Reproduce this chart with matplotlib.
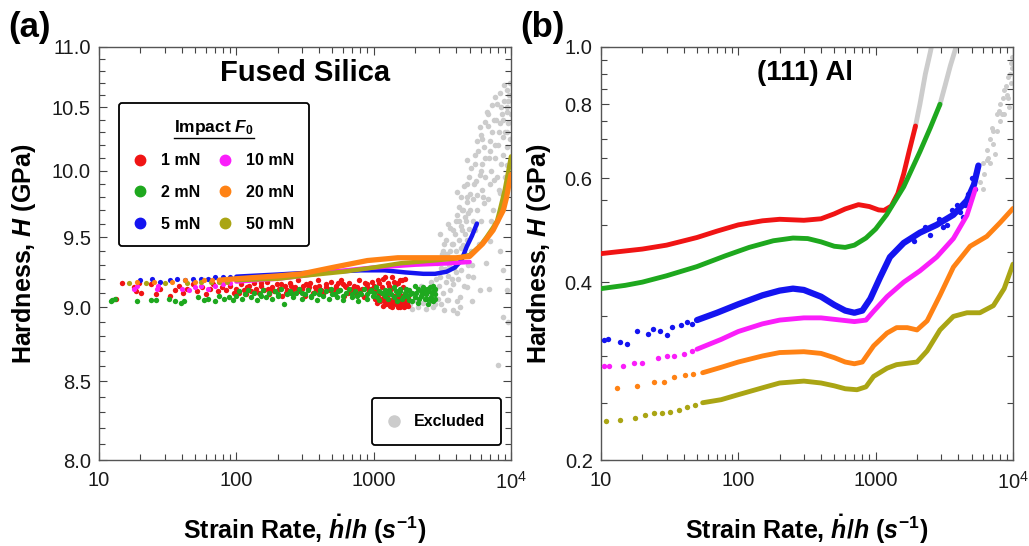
import numpy as np
import matplotlib
matplotlib.use('Agg')
import matplotlib.pyplot as plt
from matplotlib.lines import Line2D
from matplotlib.ticker import FixedLocator, NullFormatter, LogLocator

plt.rcParams['font.family'] = ['Liberation Sans', 'DejaVu Sans']
plt.rcParams['mathtext.fontset'] = 'custom'
plt.rcParams['mathtext.rm'] = 'Liberation Sans:bold'
plt.rcParams['mathtext.it'] = 'Liberation Sans:italic:bold'
plt.rcParams['mathtext.bf'] = 'Liberation Sans:bold'

# colours per impact force
colors = {'1 mN': '#f01414', '2 mN': '#1ea81e', '5 mN': '#1414f0',
          '10 mN': '#fa1efa', '20 mN': '#ff8214', '50 mN': '#aaa514'}
gray = '#cccccc'

# ---------------- panel (a): fused silica (strain rate, hardness GPa) ----------------
a_red = [(13.2, 9.06), (14.6, 9.17), (18, 9.14), (18.5, 9.11), (19.6, 9.17), (20.1, 9.10), (24, 9.16),
         (26, 9.09), (28, 9.13), (33, 9.08), (36, 9.12), (38, 9.15), (41, 9.10), (44, 9.13), (48, 9.16),
         (52, 9.11), (56, 9.14), (60, 9.09), (64, 9.13), (68, 9.16), (73, 9.11), (78, 9.14), (84, 9.12),
         (90, 9.15), (96, 9.10),
         (100, 9.13), (104, 9.10), (108, 9.16), (113, 9.12), (118, 9.09), (123, 9.15), (128, 9.11),
         (134, 9.17), (140, 9.13), (146, 9.10), (152, 9.15), (159, 9.12), (166, 9.18), (173, 9.09),
         (181, 9.14), (189, 9.11), (197, 9.16), (206, 9.13), (215, 9.08), (225, 9.15), (235, 9.12),
         (245, 9.17), (256, 9.10), (267, 9.14), (279, 9.19), (291, 9.11), (304, 9.15), (317, 9.08),
         (331, 9.13), (346, 9.17), (361, 9.10), (377, 9.14), (394, 9.19), (411, 9.12), (429, 9.09),
         (448, 9.16), (468, 9.13), (488, 9.18), (510, 9.10), (532, 9.15), (556, 9.12), (580, 9.19),
         (606, 9.08), (632, 9.14), (660, 9.17), (689, 9.11), (720, 9.15), (751, 9.09), (784, 9.19),
         (819, 9.13), (855, 9.07), (893, 9.16), (932, 9.11), (973, 9.18),
         (120, 9.14), (150, 9.17), (180, 9.12), (210, 9.16), (260, 9.13), (320, 9.16), (380, 9.12),
         (450, 9.14), (520, 9.13), (600, 9.16), (700, 9.13), (800, 9.12), (900, 9.14), (650, 9.10),
         (550, 9.17), (420, 9.11), (280, 9.12), (230, 9.10), (170, 9.13), (340, 9.14), (480, 9.12),
         (620, 9.15), (760, 9.14), (860, 9.17), (960, 9.13), (400, 9.15), (300, 9.13), (250, 9.15),
         (1000, 9.15), (1020, 9.06), (1045, 9.12), (1070, 9.19), (1095, 9.09), (1120, 9.04), (1145, 9.14),
         (1170, 9.20), (1195, 9.07), (1220, 9.02), (1245, 9.11), (1270, 9.17), (1295, 9.05), (1320, 9.01),
         (1345, 9.13), (1370, 9.21), (1395, 9.08), (1420, 9.03), (1445, 9.16), (1470, 9.06), (1495, 9.00),
         (1520, 9.10), (1545, 9.19), (1570, 9.04), (1595, 9.02), (1620, 9.08), (1645, 9.14), (1670, 9.00),
         (1695, 9.05), (1720, 9.03), (1745, 9.12), (1770, 9.01), (1790, 9.07), (1150, 9.05), (1250, 9.07),
         (1350, 9.04), (1450, 9.02), (1550, 9.06), (1650, 9.04), (1750, 9.05), (1100, 9.17), (1300, 9.15),
         (1500, 9.17), (1700, 9.20), (1120, 9.06), (1180, 9.04), (1230, 9.07), (1280, 9.05), (1330, 9.02),
         (1380, 9.06), (1430, 9.04), (1480, 9.07), (1520, 9.02), (1580, 9.05), (1630, 9.03), (1680, 9.01),
         (1720, 9.04), (1060, 9.03), (1160, 9.01), (1260, 9.03), (1360, 9.00), (1460, 9.05), (1560, 9.00),
         (1660, 9.06), (1760, 9.03), (1200, 9.21), (1400, 9.18), (1600, 9.19)]

a_green = [(12.2, 9.04), (12.5, 9.05), (13, 9.055), (19, 9.04), (23.8, 9.05), (25.8, 9.05), (32.4, 9.06),
           (36, 9.04), (39.4, 9.03), (41.6, 9.04), (53, 9.07), (58, 9.05), (62, 9.06), (70, 9.04), (75, 9.08),
           (82, 9.06), (88, 9.07), (95, 9.05), (222, 9.02),
           (100, 9.08), (105, 9.11), (110, 9.06), (116, 9.09), (122, 9.12), (128, 9.07), (135, 9.10),
           (142, 9.05), (149, 9.09), (157, 9.12), (165, 9.07), (173, 9.10), (182, 9.06), (191, 9.11),
           (201, 9.08), (211, 9.13), (233, 9.09), (245, 9.11), (258, 9.07), (271, 9.10), (285, 9.13),
           (299, 9.06), (315, 9.09), (331, 9.12), (348, 9.07), (366, 9.10), (384, 9.05), (404, 9.12),
           (425, 9.08), (446, 9.11), (469, 9.06), (493, 9.13), (519, 9.09), (545, 9.07), (573, 9.12),
           (603, 9.05), (634, 9.10), (666, 9.13), (700, 9.07), (736, 9.11), (774, 9.04), (814, 9.09),
           (856, 9.13), (900, 9.06), (946, 9.11), (995, 9.08), (1046, 9.14), (1100, 9.05), (1156, 9.10),
           (1216, 9.12), (1278, 9.06), (1344, 9.09), (1413, 9.14), (1486, 9.04), (1562, 9.11), (1642, 9.07),
           (1727, 9.13), (1815, 9.05), (1909, 9.10), (2007, 9.15), (2110, 9.03), (2218, 9.08), (2332, 9.12),
           (2452, 9.06), (2578, 9.14), (2710, 9.04), (2790, 9.09),
           (300, 9.10), (500, 9.09), (800, 9.10), (1200, 9.08), (1500, 9.09), (1800, 9.12), (2000, 9.07),
           (2200, 9.11), (2400, 9.09), (2600, 9.07), (2750, 9.12), (1000, 9.10), (700, 9.09), (400, 9.09),
           (200, 9.09), (150, 9.08), (2500, 9.02), (2300, 9.14), (1900, 9.04), (2700, 9.15), (1700, 9.10),
           (1300, 9.12), (900, 9.09), (600, 9.08), (2100, 9.13), (2650, 9.10), (2450, 9.13), (1600, 9.06),
           (1100, 9.11), (1400, 9.07), (1750, 9.08), (2050, 9.10), (2350, 9.06), (2550, 9.11), (2780, 9.06),
           (1250, 9.10), (1550, 9.13), (1850, 9.09), (2150, 9.06), (2800, 9.13), (950, 9.12), (750, 9.08),
           (550, 9.11), (350, 9.08), (250, 9.10), (1050, 9.07), (1450, 9.11), (2250, 9.09), (2620, 9.05)]

a_gray = [(1850, 9.02), (1900, 8.99), (2000, 9.05), (2100, 9.00), (2200, 9.08), (2300, 9.03), (2400, 8.99),
          (2500, 9.10), (2600, 9.04), (2700, 9.00), (2800, 9.12), (2200, 9.15), (2600, 9.18), (2800, 9.02),
          (2850, 9.20), (2900, 9.31), (2950, 9.06), (3000, 9.15), (3050, 9.52), (3050, 9.21), (3100, 9.02),
          (3150, 9.38), (3200, 9.10), (3230, 9.45), (3250, 8.98), (3300, 9.27), (3350, 9.18), (3400, 9.38),
          (3400, 9.05), (3450, 9.60), (3500, 9.22), (3600, 9.57), (3600, 9.12), (3650, 9.33), (3700, 9.45),
          (3750, 8.98), (3800, 9.16), (3850, 9.28), (3900, 9.52), (3950, 9.40), (4030, 9.66), (4030, 9.84),
          (4070, 8.96), (4100, 9.20), (4150, 9.48), (4200, 9.35), (4250, 9.07), (4250, 9.00), (4300, 9.58),
          (4350, 9.26), (4400, 9.70), (4450, 9.44), (4500, 9.70), (4550, 9.15), (4600, 9.52), (4650, 9.38),
          (4700, 9.62), (4760, 9.76), (4760, 9.90), (4760, 10.08), (4760, 9.14), (4800, 9.48), (4850, 9.30),
          (4900, 9.68), (4950, 9.56), (5050, 9.82), (5100, 9.40), (5210, 9.04), (5250, 9.62), (5320, 9.21),
          (5400, 9.90), (5500, 9.55), (5620, 10.23), (5620, 9.81), (5700, 9.70), (5800, 9.45), (5940, 10.34),
          (5940, 9.97), (5940, 9.12), (6000, 9.62), (6100, 9.85), (6200, 10.05), (6350, 10.18), (6400, 9.75),
          (6500, 9.95), (6630, 9.31), (6720, 10.46), (6820, 9.78), (6900, 10.10), (6960, 9.13), (7000, 9.90),
          (7090, 10.23), (7090, 9.47), (7200, 10.0), (7300, 10.30), (7400, 9.70), (7530, 9.93), (7710, 10.10),
          (7800, 10.40), (7930, 10.53), (7930, 9.62), (8050, 8.61), (8100, 10.20), (8200, 9.85), (8320, 10.37),
          (8320, 9.83), (8320, 9.40), (8500, 10.05), (8600, 10.45), (8750, 10.26), (8750, 8.93), (8800, 9.26),
          (8900, 10.55), (9000, 9.95), (9100, 10.30), (9310, 10.64), (9310, 10.46), (9310, 10.18),
          (9310, 10.04), (9310, 9.12), (9400, 10.50), (9530, 8.90), (9570, 10.37), (9700, 10.60),
          (9800, 10.25), (9900, 10.70), (9950, 10.45), (4400, 9.55), (4600, 9.65), (5000, 9.70), (5300, 9.78),
          (5600, 9.92), (6000, 10.0), (6500, 10.10), (7000, 10.15), (7600, 10.20), (8200, 10.30),
          (8800, 10.40), (9500, 10.55), (3800, 9.45), (3300, 9.35), (3600, 9.40), (4200, 9.62), (4800, 9.80),
          (5500, 10.05), (6200, 10.25), (6800, 10.35), (7500, 10.40), (8400, 10.50), (4070, 9.04),
          (5210, 9.30), (3500, 9.05), (4000, 9.25), (3100, 9.28), (3350, 9.48), (3550, 9.30), (3750, 9.55),
          (3950, 9.62), (4150, 9.72), (4350, 9.80), (4550, 9.88), (4950, 9.95), (5150, 10.02), (5450, 10.12),
          (5750, 10.15), (6050, 10.28), (6450, 10.38), (6850, 10.45), (7250, 10.52), (7700, 10.58),
          (8250, 10.62), (8850, 10.68), (3200, 9.40), (3700, 9.20), (4300, 9.42), (4900, 9.22), (5600, 9.60),
          (6300, 9.80), (7100, 9.62), (7900, 9.95), (8700, 10.12), (9400, 10.30)]

a_blue_dots = [(20, 9.19), (24.5, 9.20), (27.8, 9.18), (33, 9.19), (36.8, 9.20), (42, 9.19), (48, 9.20),
               (55, 9.20), (62, 9.20), (70, 9.21), (80, 9.21), (90, 9.21)]
a_blue_line = [(100, 9.215), (200, 9.23), (300, 9.24), (500, 9.25), (800, 9.26), (1200, 9.26), (1700, 9.245),
               (2300, 9.235), (2800, 9.235), (3400, 9.25), (3900, 9.28), (4350, 9.33), (4760, 9.43),
               (5200, 9.51), (5650, 9.60)]
a_magenta_dots = [(18, 9.13), (19, 9.15), (26.6, 9.13), (27, 9.15), (40, 9.13), (45, 9.12), (50, 9.14),
                  (55, 9.15), (62, 9.13), (70, 9.15), (80, 9.16), (90, 9.17)]
a_magenta_line = [(100, 9.18), (200, 9.20), (300, 9.22), (500, 9.25), (1000, 9.28), (2000, 9.30),
                  (3500, 9.31), (5000, 9.32)]
a_orange_dots = [(19, 9.18), (25, 9.18), (34, 9.18), (42, 9.19), (50, 9.18), (58, 9.19), (66, 9.19)]
a_orange_line = [(75, 9.19), (100, 9.20), (200, 9.22), (300, 9.235), (500, 9.28), (900, 9.33), (1500, 9.35),
                 (2700, 9.35), (4000, 9.35), (5000, 9.36), (6200, 9.45), (7400, 9.55), (8300, 9.65),
                 (8800, 9.70), (9300, 9.80), (9600, 9.88), (10000, 9.97)]
a_olive_dots = [(16.5, 9.17), (22, 9.17), (30, 9.17), (44, 9.17), (55, 9.18), (65, 9.18), (75, 9.18), (85, 9.18)]
a_olive_line = [(100, 9.19), (200, 9.20), (300, 9.22), (600, 9.25), (1000, 9.28), (1560, 9.31), (2700, 9.33),
                (4000, 9.345), (5000, 9.37), (6000, 9.44), (6640, 9.50), (7400, 9.57), (7920, 9.62),
                (8300, 9.70), (9000, 9.85), (9500, 9.98), (10000, 10.11)]

# ---------------- panel (b): (111) Al ----------------
b_red = [(10, 0.447), (20, 0.455), (30, 0.462), (50, 0.476), (70, 0.488), (100, 0.500), (150, 0.508),
         (200, 0.511), (300, 0.509), (400, 0.512), (500, 0.522), (600, 0.532), (750, 0.541), (900, 0.537),
         (1050, 0.530), (1150, 0.529), (1300, 0.538), (1450, 0.565), (1600, 0.61), (1750, 0.665), (1950, 0.735)]
b_red_excl = [(1950, 0.735), (2100, 0.80), (2300, 0.90), (2500, 0.98), (2650, 1.05)]
b_green = [(10, 0.39), (15, 0.395), (20, 0.40), (30, 0.41), (50, 0.425), (80, 0.443), (120, 0.458),
           (180, 0.47), (250, 0.475), (320, 0.474), (400, 0.468), (500, 0.46), (600, 0.458), (700, 0.462),
           (850, 0.475), (1000, 0.492), (1200, 0.52), (1600, 0.58), (2100, 0.665), (2500, 0.73), (2940, 0.80)]
b_green_excl = [(2940, 0.80), (3200, 0.86), (3500, 0.93), (3800, 0.99), (4000, 1.04)]
b_blue_dots = [(10.5, 0.319), (11.3, 0.321), (13.8, 0.317), (15.5, 0.314), (18.3, 0.330), (22, 0.327),
               (24, 0.333), (27, 0.330), (30, 0.325), (33, 0.336), (38, 0.338), (42, 0.342), (46, 0.340)]
b_blue_line = [(50, 0.345), (70, 0.355), (100, 0.367), (150, 0.380), (200, 0.387), (250, 0.390), (300, 0.388),
               (400, 0.378), (500, 0.366), (600, 0.358), (700, 0.355), (800, 0.358), (915, 0.375),
               (1075, 0.407), (1270, 0.441), (1600, 0.466), (2100, 0.485), (2780, 0.50), (3680, 0.52),
               (4620, 0.55), (5200, 0.585), (5600, 0.63)]
b_blue_noise = [(2500, 0.480), (2900, 0.512), (3300, 0.500), (3900, 0.540), (4300, 0.515), (4700, 0.565),
                (5000, 0.600), (5400, 0.612), (3100, 0.495), (3600, 0.530), (4100, 0.525), (4500, 0.540),
                (2300, 0.495), (1900, 0.470), (5300, 0.575)]
b_blue_excl = [(5740, 0.59), (6080, 0.636), (6440, 0.67), (6800, 0.70), (7200, 0.72), (7600, 0.77),
               (8100, 0.80), (8620, 0.845), (9120, 0.89), (9700, 0.94), (6440, 0.645), (7200, 0.685),
               (8100, 0.75), (9120, 0.82), (9700, 0.87), (6080, 0.575), (7600, 0.72), (8620, 0.77),
               (9400, 0.79), (9900, 0.92), (6800, 0.636), (7400, 0.66), (7000, 0.73), (7900, 0.78),
               (8400, 0.82), (8900, 0.86), (9500, 0.90), (9900, 0.96), (6200, 0.61), (6600, 0.65),
               (8300, 0.77), (9000, 0.83)]
b_magenta_dots = [(10.5, 0.288), (11.5, 0.289), (14.5, 0.289), (17.5, 0.292), (20, 0.292), (26, 0.298),
                  (30, 0.300), (34, 0.300), (40, 0.302), (46, 0.306)]
b_magenta_line = [(50, 0.308), (75, 0.320), (100, 0.330), (150, 0.340), (200, 0.345), (300, 0.348),
                  (400, 0.348), (500, 0.346), (700, 0.343), (850, 0.345), (966, 0.357), (1210, 0.378),
                  (1600, 0.400), (2100, 0.418), (2780, 0.441), (3680, 0.474), (4620, 0.519), (5320, 0.575)]
b_orange_dots = [(13.1, 0.265), (18.3, 0.267), (24.2, 0.271), (28.6, 0.271), (33.8, 0.276), (41, 0.278),
                 (47, 0.280)]
b_orange_line = [(55, 0.281), (75, 0.287), (100, 0.293), (150, 0.300), (200, 0.304), (300, 0.305),
                 (400, 0.303), (500, 0.298), (600, 0.293), (700, 0.291), (800, 0.293), (966, 0.312),
                 (1210, 0.328), (1420, 0.335), (1700, 0.335), (2000, 0.332), (2370, 0.344), (2940, 0.380),
                 (3680, 0.424), (4870, 0.460), (6440, 0.478), (8100, 0.505), (10000, 0.533)]
b_olive_dots = [(10.9, 0.233), (13.8, 0.234), (17.8, 0.236), (21, 0.238), (24.2, 0.240), (27.8, 0.240),
                (32, 0.241), (36.8, 0.243), (42.2, 0.246), (48.6, 0.248)]
b_olive_line = [(55, 0.250), (75, 0.253), (100, 0.258), (150, 0.265), (200, 0.270), (300, 0.272),
                (400, 0.270), (500, 0.267), (600, 0.264), (731, 0.263), (850, 0.266), (966, 0.277),
                (1210, 0.286), (1420, 0.290), (2000, 0.293), (2370, 0.306), (2940, 0.332), (3680, 0.350),
                (4620, 0.355), (5740, 0.355), (7200, 0.365), (8620, 0.390), (10000, 0.429)]

labels = ['1 mN', '2 mN', '5 mN', '10 mN', '20 mN', '50 mN']


def xy(pts):
    a = np.array(pts, dtype=float)
    return a[:, 0], a[:, 1]


fig = plt.figure(figsize=(10.29, 5.46), dpi=100)
ax1 = fig.add_axes([99 / 1029, 86 / 546, 412 / 1029, 413 / 546])
ax2 = fig.add_axes([601 / 1029, 86 / 546, 412 / 1029, 413 / 546])

# ---- panel a ----
ax1.scatter(*xy(a_gray), s=16, color=gray, lw=0, zorder=1)
ax1.scatter(*xy(a_red), s=15, color=colors['1 mN'], lw=0, zorder=2)
ax1.scatter(*xy(a_green), s=15, color=colors['2 mN'], lw=0, zorder=3)
ax1.scatter(*xy(a_blue_dots), s=14, color=colors['5 mN'], lw=0, zorder=4)
ax1.plot(*xy(a_blue_line), color=colors['5 mN'], lw=3.2, zorder=4, solid_capstyle='round')
ax1.scatter(*xy(a_magenta_dots), s=14, color=colors['10 mN'], lw=0, zorder=5)
ax1.plot(*xy(a_magenta_line), color=colors['10 mN'], lw=3.2, zorder=5, solid_capstyle='round')
ax1.scatter(*xy(a_olive_dots), s=14, color=colors['50 mN'], lw=0, zorder=6)
ax1.plot(*xy(a_olive_line), color=colors['50 mN'], lw=3.2, zorder=6, solid_capstyle='round')
ax1.scatter(*xy(a_orange_dots), s=14, color=colors['20 mN'], lw=0, zorder=7)
ax1.plot(*xy(a_orange_line), color=colors['20 mN'], lw=3.8, zorder=7, solid_capstyle='round')

# ---- panel b ----
ax2.plot(*xy(b_red_excl), color=gray, lw=3.5, zorder=1)
ax2.plot(*xy(b_green_excl), color=gray, lw=3.5, zorder=1)
ax2.scatter(*xy(b_blue_excl), s=13, color=gray, lw=0, zorder=1)
ax2.plot(*xy(b_red), color=colors['1 mN'], lw=3.5, zorder=3, solid_capstyle='round')
ax2.plot(*xy(b_green), color=colors['2 mN'], lw=3.5, zorder=3, solid_capstyle='round')
ax2.scatter(*xy(b_blue_dots), s=15, color=colors['5 mN'], lw=0, zorder=3)
ax2.plot(*xy(b_blue_line), color=colors['5 mN'], lw=4.5, zorder=3, solid_capstyle='round')
ax2.scatter(*xy(b_blue_noise), s=15, color=colors['5 mN'], lw=0, zorder=3)
ax2.scatter(*xy(b_magenta_dots), s=15, color=colors['10 mN'], lw=0, zorder=3)
ax2.plot(*xy(b_magenta_line), color=colors['10 mN'], lw=3.5, zorder=3, solid_capstyle='round')
ax2.scatter(*xy(b_orange_dots), s=15, color=colors['20 mN'], lw=0, zorder=3)
ax2.plot(*xy(b_orange_line), color=colors['20 mN'], lw=3.5, zorder=3, solid_capstyle='round')
ax2.scatter(*xy(b_olive_dots), s=15, color=colors['50 mN'], lw=0, zorder=3)
ax2.plot(*xy(b_olive_line), color=colors['50 mN'], lw=3.5, zorder=3, solid_capstyle='round')

# ---- axes styling ----
for ax in (ax1, ax2):
    ax.set_xscale('log')
    ax.set_yscale('log')
    ax.set_xlim(10, 1e4)
    ax.xaxis.set_major_locator(FixedLocator([10, 100, 1000, 1e4]))
    ax.set_xticklabels(['10', '100', '1000', r'$\mathregular{10^4}$'])
    ax.xaxis.set_minor_locator(LogLocator(base=10, subs=np.arange(2, 10)))
    ax.xaxis.set_minor_formatter(NullFormatter())
    ax.tick_params(which='both', direction='in', top=True, right=True, color='#444444',
                   labelsize=14.5, labelcolor='#1a1a1a', width=0.8)
    ax.tick_params(which='major', length=6)
    ax.tick_params(which='minor', length=4)
    ax.tick_params(axis='x', which='major', pad=8)
    ax.tick_params(axis='y', which='major', pad=6)
    for sp in ax.spines.values():
        sp.set_color('#555555')
        sp.set_linewidth(1.0)
    ax.set_xlabel(r'Strain Rate, $\dot{h}$/$h$ ($s^{-1}$)', fontsize=18, fontweight='bold')
    ax.set_ylabel(r'Hardness, $H$ (GPa)', fontsize=18, fontweight='bold')
    ax.xaxis.set_label_coords(0.5, -0.128)

ax1.set_ylim(8, 11)
ax1.yaxis.set_major_locator(FixedLocator([8.0, 8.5, 9.0, 9.5, 10.0, 10.5, 11.0]))
ax1.set_yticklabels(['8.0', '8.5', '9.0', '9.5', '10.0', '10.5', '11.0'])
ax1.yaxis.set_minor_locator(FixedLocator(np.arange(80, 111) / 10))
ax1.yaxis.set_minor_formatter(NullFormatter())
ax1.yaxis.set_label_coords(-0.148, 0.5)

ax2.set_ylim(0.2, 1.0)
ax2.yaxis.set_major_locator(FixedLocator([0.2, 0.4, 0.6, 0.8, 1.0]))
ax2.set_yticklabels(['0.2', '0.4', '0.6', '0.8', '1.0'])
ax2.yaxis.set_minor_locator(FixedLocator(np.arange(4, 21) / 20))
ax2.yaxis.set_minor_formatter(NullFormatter())
ax2.yaxis.set_label_coords(-0.117, 0.5)

ax1.text(0.5, 0.937, 'Fused Silica', transform=ax1.transAxes, ha='center', va='center',
         fontsize=21, fontweight='bold')
ax2.text(0.495, 0.937, '(111) Al', transform=ax2.transAxes, ha='center', va='center',
         fontsize=20, fontweight='bold')
fig.text(29 / 1029, 1 - 28 / 546, '(a)', ha='center', va='center', fontsize=25, fontweight='bold')
fig.text(542 / 1029, 1 - 28 / 546, '(b)', ha='center', va='center', fontsize=25, fontweight='bold')

# ---- legends ----
handles = [Line2D([], [], marker='o', ls='none', color=colors[k], markersize=7.5) for k in labels]
leg = ax1.legend(handles, labels, ncol=2, loc='upper left', bbox_to_anchor=(0.0485, 0.864),
                 title=r'Impact $F_0$', prop={'weight': 'bold', 'size': 11.5},
                 title_fontproperties={'weight': 'bold', 'size': 12.5},
                 frameon=True, fancybox=True, edgecolor='black', framealpha=1,
                 handlelength=0.8, handletextpad=0.9, columnspacing=1.2, labelspacing=1.05,
                 borderpad=0.9, borderaxespad=0)
leg.get_frame().set_linewidth(1.3)
ax1.add_artist(leg)

h_ex = [Line2D([], [], marker='o', ls='none', color=gray, markersize=8)]
leg2 = ax1.legend(h_ex, ['Excluded'], loc='lower right', bbox_to_anchor=(0.976, 0.036),
                  prop={'weight': 'bold', 'size': 11.5}, frameon=True, fancybox=True,
                  edgecolor='black', framealpha=1, handlelength=0.8, handletextpad=0.85,
                  borderpad=1.0, borderaxespad=0)
leg2.get_frame().set_linewidth(1.3)

# underline under the legend title
fig.canvas.draw()
r = fig.canvas.get_renderer()
bb = leg.get_title().get_window_extent(r).transformed(fig.transFigure.inverted())
fig.add_artist(Line2D([bb.x0, bb.x1], [bb.y0 - 1.5 / 546, bb.y0 - 1.5 / 546], color='black', lw=1.0,
                      transform=fig.transFigure))

fig.savefig('out.png', dpi=100)
